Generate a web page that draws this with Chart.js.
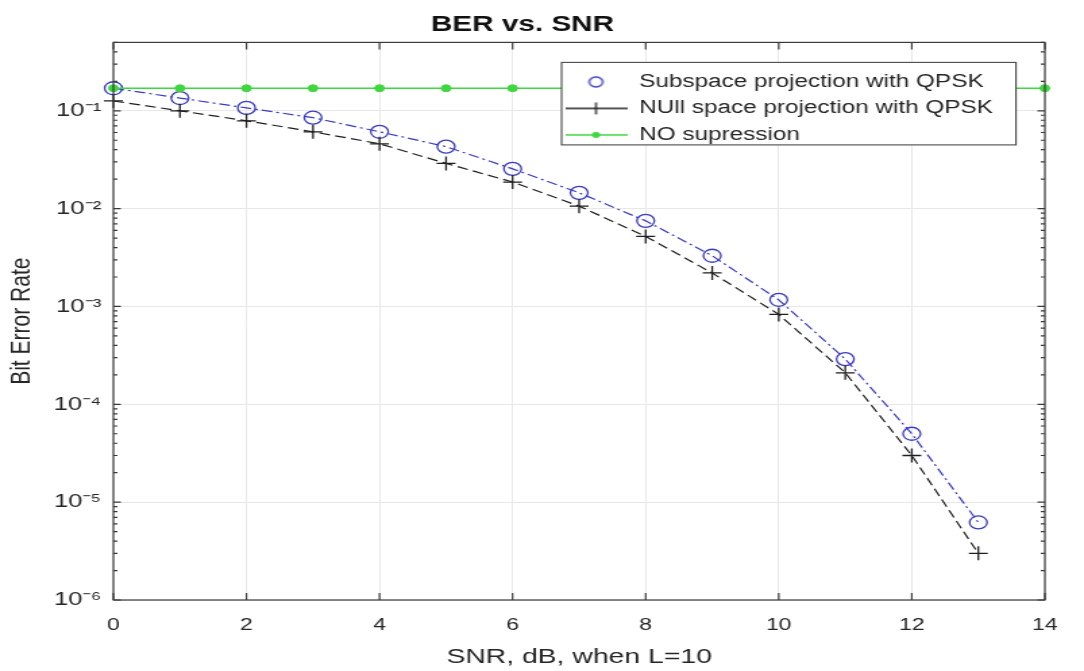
<!DOCTYPE html>
<html>
<head>
<meta charset="utf-8">
<script src="https://cdn.jsdelivr.net/npm/chart.js@4.4.1/dist/chart.umd.min.js"></script>
<style>
  html, body { margin: 0; padding: 0; background: #fff; }
</style>
</head>
<body>
<!-- the reference image is stretched sideways, so the canvas is drawn narrow and widened by css -->
<canvas id="berChart" width="803" height="671" style="width:1084px;height:671px"></canvas>
<script>
const snr = [0, 1, 2, 3, 4, 5, 6, 7, 8, 9, 10, 11, 12, 13];
const snrNoSup = [0, 1, 2, 3, 4, 5, 6, 7, 8, 9, 10, 11, 12, 13, 14];
const subspaceBer = [0.17, 0.135, 0.107, 0.085, 0.061, 0.043, 0.0255, 0.0145, 0.0075, 0.0033, 0.00117, 0.00029, 0.00005, 0.0000062];
const nullBer = [0.126, 0.1, 0.079, 0.061, 0.046, 0.029, 0.0187, 0.0106, 0.0052, 0.0022, 0.00083, 0.00021, 0.00003, 0.000003];
const noSupBer = [0.17, 0.17, 0.17, 0.17, 0.17, 0.17, 0.17, 0.17, 0.17, 0.17, 0.17, 0.17, 0.17, 0.17, 0.17];
const seriesNames = ['Subspace projection with QPSK', 'NUll space projection with QPSK', 'NO supression'];
const xTicks = [0, 2, 4, 6, 8, 10, 12, 14];
const yDecades = [1e-6, 1e-5, 1e-4, 1e-3, 1e-2, 1e-1];

const FONT = '"Liberation Sans", Arial, Helvetica, sans-serif';
const blue = '#3a3ac6';
const black = '#1e1e1e';
const green = '#3fd63f';
const gridColor = '#e8e8e8';
const textColor = '#262626';

function toPoints(xs, ys) {
    return xs.map((x, i) => ({ x: x, y: ys[i] }));
}

function superscript(n) {
    const map = { '-': '\u207B', '0': '\u2070', '1': '\u00B9', '2': '\u00B2', '3': '\u00B3',
        '4': '\u2074', '5': '\u2075', '6': '\u2076', '7': '\u2077', '8': '\u2078', '9': '\u2079' };
    return String(n).split('').map(c => map[c]).join('');
}

// little legend symbols: line sample plus marker, like matlab
function legendIcon(kind) {
    const c = document.createElement('canvas');
    c.width = 46;
    c.height = 20;
    const g = c.getContext('2d');
    g.lineWidth = 1.3;
    if (kind === 'circle') {
        g.strokeStyle = blue;
        g.beginPath();
        g.arc(23, 10, 5, 0, Math.PI * 2);
        g.stroke();
    } else if (kind === 'cross') {
        g.strokeStyle = black;
        g.beginPath();
        g.moveTo(0, 10); g.lineTo(46, 10);
        g.moveTo(23, 4); g.lineTo(23, 16);
        g.moveTo(17, 10); g.lineTo(29, 10);
        g.stroke();
    } else {
        g.strokeStyle = green;
        g.fillStyle = green;
        g.beginPath();
        g.moveTo(0, 10); g.lineTo(46, 10);
        g.stroke();
        g.beginPath();
        g.arc(23, 10, 3, 0, Math.PI * 2);
        g.fill();
    }
    return c;
}
const legendIcons = [legendIcon('circle'), legendIcon('cross'), legendIcon('dot')];

// legend sits inside the axes, with white fill and a border, above the lines
const legendInside = {
    id: 'legendInside',
    beforeLayout(chart) {
        const lg = chart.legend;
        if (!lg || lg._insideLayer) return;
        lg._insideLayer = true;
        lg._layers = () => [{
            z: 5,
            draw(area) {
                const ctx = chart.ctx;
                const pad = lg.options.labels.padding;
                ctx.save();
                ctx.font = '18px ' + FONT;
                const textW = Math.max(...seriesNames.map(s => ctx.measureText(s).width));
                const left = lg.left + 6;
                const right = lg.left + pad + 46 + 9 + textW + 17;
                const top = lg.top - 2;
                const bottom = lg.top + 3 * (18 + pad) + 1;
                ctx.fillStyle = '#fff';
                ctx.fillRect(left, top, right - left, bottom - top);
                ctx.strokeStyle = '#4a4a4a';
                ctx.lineWidth = 1.1;
                ctx.strokeRect(left, top, right - left, bottom - top);
                ctx.restore();
                lg.draw(area);
            }
        }];
    },
    afterLayout(chart) {
        const lg = chart.legend;
        const a = chart.chartArea;
        lg.left = a.right - 364;
        lg.right = lg.left + lg.width;
        lg.top = a.top + 22;
        lg.bottom = a.bottom;
    }
};

// axes box with inward ticks, log minor ticks on both sides
const axesBox = {
    id: 'axesBox',
    afterDatasetsDraw(chart) {
        const { ctx, chartArea: a, scales: { x, y } } = chart;
        ctx.save();
        ctx.strokeStyle = '#3a3a3a';
        ctx.lineWidth = 1.2;
        ctx.strokeRect(a.left, a.top, a.width, a.height);
        ctx.beginPath();
        xTicks.forEach(v => {
            const px = x.getPixelForValue(v);
            ctx.moveTo(px, a.bottom); ctx.lineTo(px, a.bottom - 7);
            ctx.moveTo(px, a.top); ctx.lineTo(px, a.top + 7);
        });
        yDecades.forEach(d => {
            for (let m = 1; m <= 9; m++) {
                const v = d * m;
                if (v > y.max) break;
                const py = y.getPixelForValue(v);
                const len = m === 1 ? 5.5 : 3;
                ctx.moveTo(a.left, py); ctx.lineTo(a.left + len, py);
                ctx.moveTo(a.right, py); ctx.lineTo(a.right - len, py);
            }
        });
        ctx.stroke();
        ctx.restore();
    }
};

new Chart(document.getElementById('berChart'), {
    type: 'line',
    data: {
        datasets: [{
            label: seriesNames[0],
            data: toPoints(snr, subspaceBer),
            borderColor: blue,
            borderWidth: 1.2,
            borderDash: [8, 3, 2, 3],
            pointStyle: 'circle',
            pointRadius: 6.5,
            pointBorderColor: blue,
            pointBackgroundColor: 'rgba(0,0,0,0)',
            pointBorderWidth: 1.3,
            clip: false,
            order: 3
        }, {
            label: seriesNames[1],
            data: toPoints(snr, nullBer),
            borderColor: black,
            borderWidth: 1.2,
            borderDash: [8, 4],
            pointStyle: 'cross',
            pointRadius: 7,
            pointBorderColor: black,
            pointBorderWidth: 1.3,
            clip: false,
            order: 2
        }, {
            label: seriesNames[2],
            data: toPoints(snrNoSup, noSupBer),
            borderColor: green,
            borderWidth: 1.3,
            pointStyle: 'circle',
            pointRadius: 3.5,
            pointBorderColor: green,
            pointBackgroundColor: green,
            pointBorderWidth: 1,
            clip: false,
            order: 1
        }]
    },
    options: {
        responsive: false,
        animation: false,
        devicePixelRatio: 1,
        layout: { padding: { left: 0, right: 29, top: 0, bottom: 0 } },
        scales: {
            x: {
                type: 'linear',
                min: 0,
                max: 14,
                afterBuildTicks: scale => { scale.ticks = xTicks.map(v => ({ value: v })); },
                afterFit: scale => { scale.height = 71; },
                grid: { color: gridColor, drawTicks: false },
                border: { display: false },
                ticks: {
                    padding: 15,
                    color: textColor,
                    font: { family: FONT, size: 17 },
                    maxRotation: 0
                },
                title: {
                    display: true,
                    text: 'SNR, dB, when L=10',
                    color: textColor,
                    font: { family: FONT, size: 21 },
                    padding: { top: 0, bottom: 1 }
                }
            },
            y: {
                type: 'logarithmic',
                min: 1e-6,
                max: 0.5,
                afterBuildTicks: scale => { scale.ticks = yDecades.map(v => ({ value: v })); },
                afterFit: scale => { scale.width = 84; },
                grid: { color: gridColor, drawTicks: false },
                border: { display: false },
                ticks: {
                    padding: 9,
                    color: textColor,
                    font: { family: FONT, size: 19 },
                    callback: v => '10' + superscript(Math.round(Math.log10(v)))
                },
                title: {
                    display: true,
                    text: 'Bit Error Rate',
                    color: textColor,
                    font: { family: FONT, size: 21 },
                    padding: { top: 4, bottom: 0 }
                }
            }
        },
        plugins: {
            title: {
                display: true,
                text: 'BER vs. SNR',
                color: '#111',
                font: { family: FONT, size: 22, weight: 'bold' },
                padding: { top: 12, bottom: 4 }
            },
            legend: {
                position: 'chartArea',
                align: 'start',
                labels: {
                    usePointStyle: true,
                    pointStyleWidth: 46,
                    padding: 8.5,
                    color: textColor,
                    font: { family: FONT, size: 18 },
                    sort: (a, b) => a.datasetIndex - b.datasetIndex,
                    generateLabels: chart => {
                        const items = Chart.defaults.plugins.legend.labels.generateLabels(chart);
                        items.forEach(it => { it.pointStyle = legendIcons[it.datasetIndex]; });
                        return items;
                    }
                }
            },
            tooltip: { enabled: false }
        }
    },
    plugins: [legendInside, axesBox]
});
</script>
</body>
</html>
